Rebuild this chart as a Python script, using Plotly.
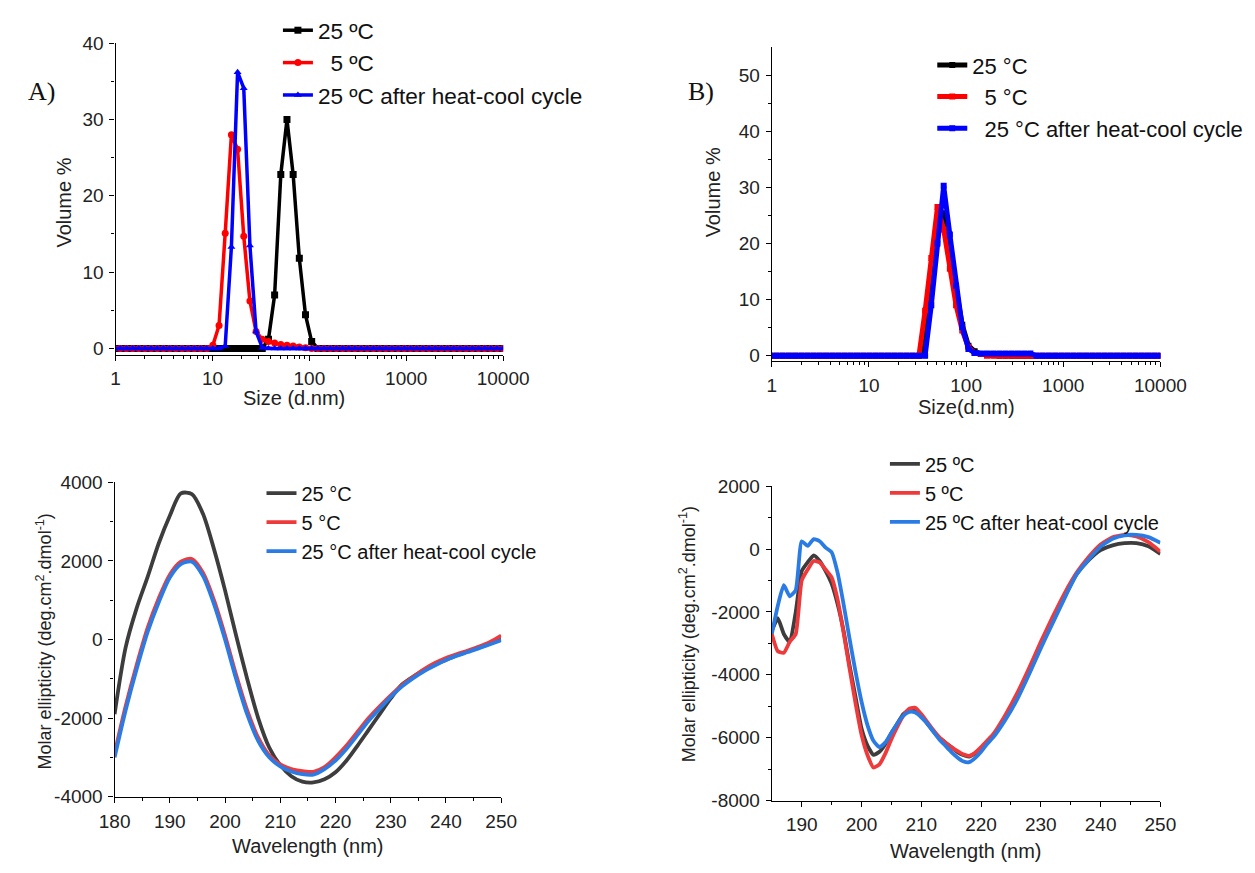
import plotly.graph_objects as go

# ---------------- data ----------------
# DLS size classes (d.nm)
SIZE_BINS = [0.9649, 1.117, 1.294, 1.499, 1.736, 2.010, 2.328, 2.696, 3.122, 3.615,
             4.187, 4.849, 5.615, 6.503, 7.531, 8.721, 10.10, 11.70, 13.54, 15.69,
             18.17, 21.04, 24.36, 28.21, 32.67, 37.84, 43.82, 50.75, 58.77, 68.06,
             78.82, 91.28, 105.7, 122.4, 141.8, 164.2, 190.1, 220.2, 255.0, 295.3,
             342.0, 396.1, 458.7, 531.2, 615.1, 712.4, 825.0, 955.4, 1106, 1281,
             1484, 1718, 1990, 2305, 2669, 3091, 3580, 4145, 4801, 5560,
             6439, 7456, 8635, 10000]

# Panel A volume % (classes not listed read as 0)
A_25C = {37.84: 1.2, 43.82: 7.0, 50.75: 22.8, 58.77: 30.0, 68.06: 22.8,
         78.82: 11.8, 91.28: 4.4, 105.7: 0.9}
A_5C = {10.10: 0.4, 11.70: 3.0, 13.54: 15.1, 15.69: 28.0, 18.17: 26.1, 21.04: 14.7,
        24.36: 6.2, 28.21: 2.2, 32.67: 1.2, 37.84: 0.9, 43.82: 0.7, 50.75: 0.5,
        58.77: 0.4, 68.06: 0.3, 78.82: 0.2, 91.28: 0.1}
A_CYCLE = {13.54: 0.3, 15.69: 13.3, 18.17: 36.2, 21.04: 34.1, 24.36: 13.5,
           28.21: 2.2, 32.67: 0.1}

# Panel B volume %
B_25C = {37.84: 2.0, 43.82: 12.0, 50.75: 22.0, 58.77: 25.4, 68.06: 19.5, 78.82: 12.0,
         91.28: 5.5, 105.7: 1.8, 122.4: 0.8, 141.8: 0.3, 164.2: 0.2, 190.1: 0.2}
B_5C = {37.84: 8.0, 43.82: 17.4, 50.75: 26.5, 58.77: 22.5, 68.06: 15.5, 78.82: 9.0,
        91.28: 4.5, 105.7: 1.5, 122.4: 0.5, 141.8: 0.3}
B_CYCLE = {43.82: 9.0, 50.75: 20.0, 58.77: 30.3, 68.06: 21.6, 78.82: 12.5, 91.28: 5.1,
           105.7: 1.2, 122.4: 0.5, 141.8: 0.4, 164.2: 0.4, 190.1: 0.4, 220.2: 0.4,
           255.0: 0.4, 295.3: 0.4, 342.0: 0.4, 396.1: 0.4, 458.7: 0.4}

# Panel C: CD spectra (wavelength nm)
C_WL = [180, 182, 184, 186, 188, 190, 192, 194, 196, 198, 200, 202, 204, 206, 208, 210,
        212, 214, 216, 218, 220, 222, 224, 226, 228, 230, 232, 234, 236, 238, 240, 242,
        244, 246, 248, 250]
C_25C = [-1900, -200, 800, 1600, 2450, 3150, 3720, 3700, 3200, 2300, 1250, 100, -1000,
         -2000, -2750, -3200, -3480, -3620, -3640, -3560, -3380, -3080, -2700, -2300,
         -1900, -1500, -1150, -950, -780, -640, -520, -400, -300, -200, -100, 0]
C_5C = [-2900, -1700, -650, 300, 1050, 1650, 1980, 2050, 1700, 1000, 100, -900, -1800,
        -2500, -2950, -3180, -3300, -3350, -3370, -3250, -3000, -2700, -2350, -2000,
        -1700, -1420, -1170, -960, -760, -600, -470, -370, -280, -180, -60, 100]
C_CYCLE = [-3000, -1800, -750, 200, 950, 1580, 1920, 1980, 1620, 900, 0, -1000, -1900,
           -2580, -3000, -3230, -3360, -3430, -3440, -3300, -3080, -2780, -2430, -2070,
           -1760, -1460, -1200, -990, -810, -660, -520, -410, -320, -220, -120, -20]

# Panel D: CD spectra
D_WL = [185, 186, 187, 188, 189, 190, 191, 192, 193, 194, 195, 196, 197, 198, 199, 200,
        201, 202, 203, 204, 205, 206, 207, 208, 209, 210, 211, 212, 213, 214, 215, 216,
        217, 218, 219, 220, 221, 222, 224, 226, 228, 230, 232, 234, 236, 238, 240, 242,
        244, 246, 248, 250]
D_25C = [-2600, -2200, -2700, -2950, -2000, -700, -420, -200, -380, -700, -1100, -1750,
         -2600, -3700, -4700, -5700, -6250, -6550, -6450, -6200, -5850, -5550, -5250,
         -5120, -5130, -5300, -5550, -5800, -6000, -6150, -6300, -6450, -6550, -6600,
         -6500, -6350, -6150, -5950, -5400, -4750, -3950, -3100, -2300, -1500, -800,
         -350, -30, 120, 190, 190, 90, -150]
D_5C = [-2700, -3250, -3300, -2950, -2700, -1000, -650, -380, -420, -650, -900, -1600,
        -2650, -3800, -4900, -5900, -6550, -6950, -6850, -6500, -6050, -5650, -5300,
        -5080, -5050, -5250, -5500, -5750, -5980, -6150, -6300, -6420, -6530, -6580,
        -6480, -6300, -6100, -5900, -5300, -4600, -3800, -2950, -2150, -1400, -750,
        -250, 150, 380, 450, 400, 220, -80]
D_CYCLE = [-2700, -1800, -1150, -1500, -1300, 250, 100, 320, 250, 50, -100, -750,
           -1750, -2850, -3900, -4850, -5600, -6100, -6300, -6150, -5850, -5550, -5300,
           -5180, -5200, -5350, -5550, -5800, -6050, -6250, -6450, -6620, -6750, -6780,
           -6650, -6450, -6200, -6000, -5450, -4800, -4000, -3150, -2350, -1550, -800,
           -330, 80, 330, 440, 450, 380, 200]

# ---------------- figure ----------------
W, H = 1255, 873
FONT = "Arial, 'Liberation Sans', sans-serif"
NB = "\u00a0"


def fx(p):
    return p / W


def fy(p):
    return 1 - p / H


fig = go.Figure()

# Panel A
for name, d, col, sym in [("25 ºC", A_25C, "#000000", "square"),
                          (NB * 2 + "5 ºC", A_5C, "#ff0000", "circle"),
                          ("25 ºC after heat-cool cycle", A_CYCLE, "#0000ff", "triangle-up")]:
    fig.add_trace(go.Scatter(x=SIZE_BINS, y=[d.get(s, 0.0) for s in SIZE_BINS],
                             mode="lines+markers", name=name,
                             line=dict(color=col, width=3.5),
                             marker=dict(symbol=sym, size=7, color=col),
                             xaxis="x", yaxis="y", legend="legend"))

# Panel B
for name, d, col in [("25 °C", B_25C, "#000000"),
                     (NB * 2 + "5 °C", B_5C, "#ff0000"),
                     (NB * 2 + "25 °C after heat-cool cycle", B_CYCLE, "#0000ff")]:
    fig.add_trace(go.Scatter(x=SIZE_BINS, y=[d.get(s, 0.0) for s in SIZE_BINS],
                             mode="lines+markers", name=name,
                             line=dict(color=col, width=5),
                             marker=dict(symbol="square", size=6, color=col),
                             xaxis="x2", yaxis="y2", legend="legend2"))

GRAY, RED, BLUE = "#3d3d3d", "#ee3a3a", "#2a7be4"
# Panel C
for name, ys, col in [("25 °C", C_25C, GRAY), ("5 °C", C_5C, RED),
                      ("25 °C after heat-cool cycle", C_CYCLE, BLUE)]:
    fig.add_trace(go.Scatter(x=C_WL, y=ys, mode="lines", name=name,
                             line=dict(color=col, width=3.8, shape="spline", smoothing=0.8),
                             xaxis="x3", yaxis="y3", legend="legend3"))

# Panel D
for name, ys, col in [("25 ºC", D_25C, GRAY), ("5 ºC", D_5C, RED),
                      ("25 ºC after heat-cool cycle", D_CYCLE, BLUE)]:
    fig.add_trace(go.Scatter(x=D_WL, y=ys, mode="lines", name=name,
                             line=dict(color=col, width=3.8, shape="spline", smoothing=0.5),
                             xaxis="x4", yaxis="y4", legend="legend4"))

axis_common = dict(showline=True, linecolor="#000000", linewidth=1.2, showgrid=False,
                   zeroline=False, ticks="outside", ticklen=5, tickwidth=1.2,
                   tickcolor="#000000", tickfont=dict(family=FONT, size=19, color="#222222"),
                   ticklabelstandoff=2, mirror=False)

log_minor = [d * k for d in (1, 10, 100, 1000) for k in range(2, 10)]
minor_style = dict(ticks="outside", ticklen=3, tickcolor="#000000", tickwidth=1)

fig.update_layout(
    xaxis=dict(axis_common, type="log", range=[0, 4], domain=[fx(103), fx(504)],
               anchor="y", tickvals=[1, 10, 100, 1000, 10000],
               ticktext=["1", "10", "100", "1000", "10000"],
               minor=dict(minor_style, tickvals=log_minor)),
    yaxis=dict(axis_common, range=[-0.8, 40], domain=[fy(353), fy(34)], anchor="x",
               tickvals=[0, 10, 20, 30, 40],
               minor=dict(minor_style, tickvals=[5, 15, 25, 35])),
    xaxis2=dict(axis_common, type="log", range=[0, 4], domain=[fx(782), fx(1184)],
                anchor="y2", tickvals=[1, 10, 100, 1000, 10000],
                ticktext=["1", "10", "100", "1000", "10000"],
                minor=dict(minor_style, tickvals=log_minor)),
    yaxis2=dict(axis_common, range=[-1, 55], domain=[fy(360), fy(38)], anchor="x2",
                tickvals=[0, 10, 20, 30, 40, 50],
                minor=dict(minor_style, tickvals=[5, 15, 25, 35, 45])),
    xaxis3=dict(axis_common, range=[180, 250], domain=[fx(102), fx(502)], anchor="y3",
                tickvals=[180, 190, 200, 210, 220, 230, 240, 250],
                minor=dict(minor_style, tickvals=[185, 195, 205, 215, 225, 235, 245])),
    yaxis3=dict(axis_common, range=[-4000, 4000], domain=[fy(806), fy(484)], anchor="x3",
                tickvals=[-4000, -2000, 0, 2000, 4000],
                ticktext=["-4000", "-2000", "0", "2000", "4000"],
                minor=dict(minor_style, tickvals=[-3000, -1000, 1000, 3000])),
    xaxis4=dict(axis_common, range=[185, 250], domain=[fx(782), fx(1184)], anchor="y4",
                tickvals=[190, 200, 210, 220, 230, 240, 250],
                minor=dict(minor_style, tickvals=[195, 205, 215, 225, 235, 245])),
    yaxis4=dict(axis_common, range=[-8000, 2000], domain=[fy(810), fy(488)], anchor="x4",
                tickvals=[-8000, -6000, -4000, -2000, 0, 2000],
                ticktext=["-8000", "-6000", "-4000", "-2000", "0", "2000"],
                minor=dict(minor_style, tickvals=[-7000, -5000, -3000, -1000, 1000])),
)

leg_common = dict(bgcolor="rgba(0,0,0,0)", borderwidth=0, xanchor="left", yanchor="top",
                  tracegroupgap=0, itemclick=False)
fig.update_layout(
    legend=dict(leg_common, x=fx(271), y=fy(-1), font=dict(family=FONT, size=22.6, color="#111")),
    legend2=dict(leg_common, x=fx(948), y=fy(35), font=dict(family=FONT, size=22, color="#111")),
    legend3=dict(leg_common, x=fx(254), y=fy(475), font=dict(family=FONT, size=20, color="#111")),
    legend4=dict(leg_common, x=fx(899), y=fy(445), font=dict(family=FONT, size=20, color="#111")),
)

ann = []


def add_text(text, x, y, size, angle=0, family=FONT, color="#222222"):
    ann.append(dict(text=text, x=fx(x), y=fy(y), xref="paper", yref="paper",
                    xanchor="center", yanchor="middle", showarrow=False, textangle=angle,
                    font=dict(family=family, size=size, color=color)))


SERIF = "'Times New Roman', 'Liberation Serif', serif"
add_text("A)", 26, 83, 26, family=SERIF, color="#111")
add_text("B)", 709, 83, 26, family=SERIF, color="#111")
add_text("Volume %", 50, 197, 20, angle=-90)
add_text("Size (d.nm)", 288, 398, 20)
add_text("Volume %", 721, 187, 20, angle=-90)
add_text("Size(d.nm)", 983, 407, 20)
add_text("Molar ellipticity (deg.cm<sup>2</sup>.dmol<sup>-1</sup>)", 29, 647, 18, angle=-90)
add_text("Wavelength (nm)", 302, 857, 20)
add_text("Molar ellipticity (deg.cm<sup>2</sup>.dmol<sup>-1</sup>)", 695, 640, 18, angle=-90)
add_text("Wavelength (nm)", 983, 862, 20)

fig.update_layout(width=W, height=H, margin=dict(l=0, r=0, t=0, b=0),
                  paper_bgcolor="white", plot_bgcolor="white", annotations=ann,
                  font=dict(family=FONT))

fig.write_html("out.html", post_script="document.body.style.margin='0px';")
